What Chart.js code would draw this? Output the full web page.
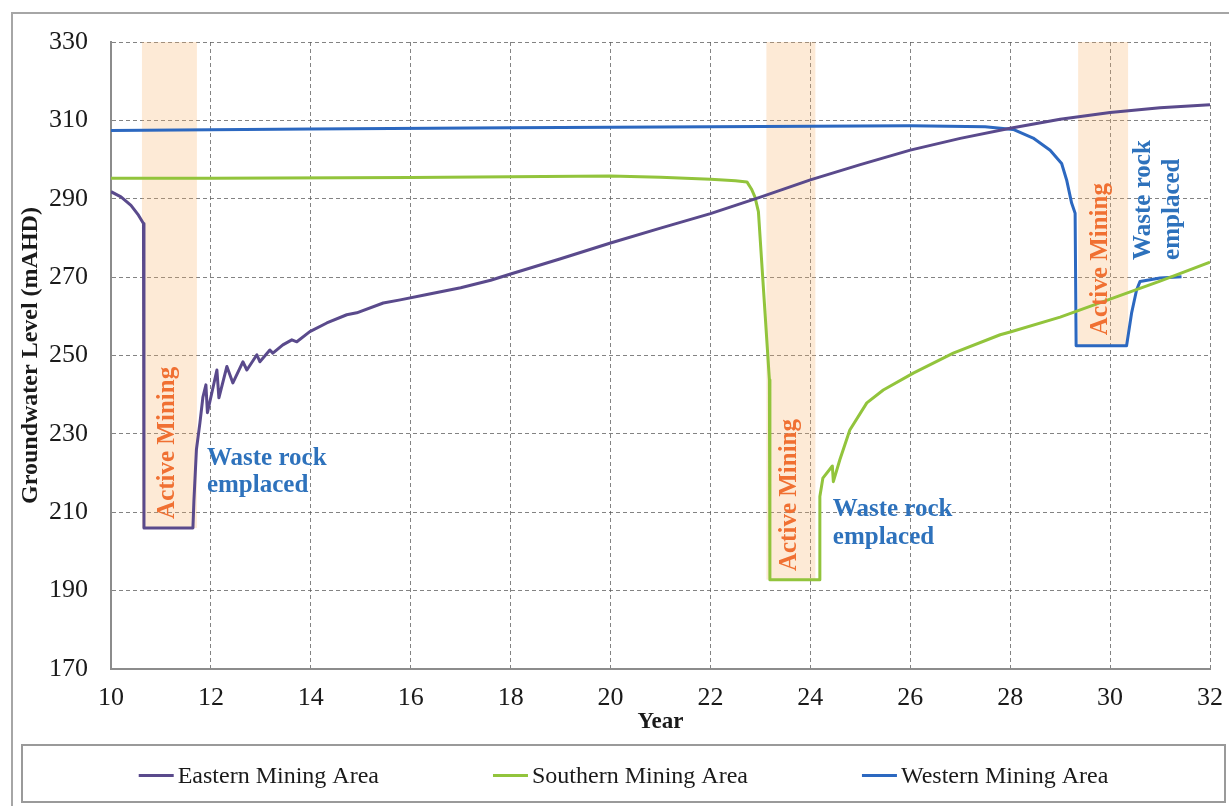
<!DOCTYPE html>
<html>
<head>
<meta charset="utf-8">
<script src="https://cdn.jsdelivr.net/npm/chart.js@4.4.1/dist/chart.umd.min.js"></script>
<style>
  html, body { margin: 0; padding: 0; background: #ffffff; }
  #wrap { position: relative; width: 1229px; height: 806px; }
  canvas { display: block; }
</style>
</head>
<body>
<div id="wrap"><canvas id="chart" width="1229" height="806"></canvas></div>
<script>
// Groundwater level (mAHD) by year for the three mining areas
const seriesNames = ['Eastern Mining Area', 'Southern Mining Area', 'Western Mining Area'];

const eastYears = [10.0, 10.2, 10.4, 10.55, 10.65, 10.66, 11.64, 11.66, 11.71, 11.78, 11.84, 11.90, 11.93,
  12.12, 12.16, 12.32, 12.44, 12.64, 12.72, 12.92, 12.98, 13.18, 13.24, 13.44, 13.62, 13.72, 13.98,
  14.32, 14.72, 14.92, 15.45, 15.79, 16.3, 17.0, 17.6, 18.0, 19.0, 20.0, 21.0, 22.0, 23.0, 24.0,
  25.0, 26.0, 27.0, 28.0, 29.0, 30.0, 31.0, 32.0];
const eastLevels = [291.8, 290.5, 288.3, 285.8, 283.7, 206.0, 206.0, 213.0, 226.0, 232.8, 239.4, 242.5, 235.4,
  246.3, 239.2, 247.2, 243.0, 248.4, 246.3, 250.2, 248.4, 251.4, 250.6, 252.7, 254.0, 253.5, 256.1,
  258.3, 260.4, 260.9, 263.4, 264.2, 265.5, 267.3, 269.2, 270.8, 274.7, 278.7, 282.5, 286.2, 290.4, 294.8,
  298.7, 302.4, 305.4, 308.0, 310.3, 312.0, 313.2, 314.0];

const southYears = [10.0, 12.0, 16.0, 20.0, 21.0, 22.0, 22.5, 22.73, 22.82, 22.89, 22.96, 23.18, 23.19,
  24.18, 24.19, 24.25, 24.44, 24.46, 24.59, 24.79, 25.13, 25.46, 26.06, 26.86, 27.8, 28.0, 29.0,
  30.0, 31.0, 32.0];
const southLevels = [295.2, 295.2, 295.4, 295.8, 295.5, 295.0, 294.6, 294.3, 292.5, 290.5, 286.7, 243.8, 192.8,
  192.8, 214.0, 218.7, 221.8, 217.8, 223.4, 231.0, 237.9, 241.2, 245.5, 250.6, 255.3, 256.0, 259.8,
  264.4, 269.0, 273.8];

const westYears = [10.0, 14.0, 18.0, 22.0, 26.0, 27.5, 28.06, 28.46, 28.80, 29.03, 29.13, 29.23, 29.30,
  29.32, 30.33, 30.43, 30.53, 30.60, 31.0, 31.43];
const westLevels = [307.4, 307.8, 308.1, 308.4, 308.6, 308.4, 307.7, 305.5, 302.4, 299.0, 294.8, 288.9, 286.3,
  252.5, 252.5, 260.8, 266.7, 268.9, 269.8, 270.1];

// Axis ranges and tick spacing
const yearRange = [10, 32];
const yearStep = 2;
const levelRange = [170, 330];
const levelStep = 20;

// Active mining periods (years) and the drawdown floor each one reaches
const miningStart = [10.62, 23.12, 29.36];
const miningEnd = [11.72, 24.10, 30.36];
const miningFloor = [206.0, 192.8, 252.5];

const lineColors = ['#5a4a8c', '#92c43c', '#2c68c0'];
const orange = '#f07032';
const noteBlue = '#2e72bc';
const serif = '"Liberation Serif", "Times New Roman", serif';

const toPoints = (xs, ys) => xs.map((x, i) => ({ x, y: ys[i] }));

// Text notes placed in data units
const notes = [
  { text: 'Active Mining', x: 11.14, y: 227.7, rotate: true, align: 'center', color: orange },
  { text: 'Waste rock', x: 11.92, y: 223.6, rotate: false, align: 'left', color: noteBlue },
  { text: 'emplaced', x: 11.92, y: 216.7, rotate: false, align: 'left', color: noteBlue },
  { text: 'Active Mining', x: 23.59, y: 214.4, rotate: true, align: 'center', color: orange },
  { text: 'Waste rock', x: 24.45, y: 210.6, rotate: false, align: 'left', color: noteBlue },
  { text: 'emplaced', x: 24.45, y: 203.5, rotate: false, align: 'left', color: noteBlue },
  { text: 'Active Mining', x: 29.80, y: 274.6, rotate: true, align: 'center', color: orange },
  { text: 'Waste rock', x: 30.66, y: 274.4, rotate: true, align: 'left', color: noteBlue },
  { text: 'emplaced', x: 31.25, y: 274.4, rotate: true, align: 'left', color: noteBlue }
];

// Shaded active-mining windows, drawn under the lines
const miningBands = {
  id: 'miningBands',
  beforeDatasetsDraw(chart) {
    const { ctx, scales: { x, y } } = chart;
    ctx.save();
    ctx.fillStyle = 'rgba(248, 176, 105, 0.27)';
    miningStart.forEach((s, i) => {
      const x0 = x.getPixelForValue(s);
      const x1 = x.getPixelForValue(miningEnd[i]);
      const y0 = y.getPixelForValue(levelRange[1]);
      const y1 = y.getPixelForValue(miningFloor[i]);
      ctx.fillRect(x0, y0, x1 - x0, y1 - y0);
    });
    ctx.restore();
  }
};

// Labels for the mining and waste-rock phases
const phaseNotes = {
  id: 'phaseNotes',
  afterDatasetsDraw(chart) {
    const { ctx, scales: { x, y } } = chart;
    ctx.save();
    ctx.font = 'bold 25px ' + serif;
    ctx.textBaseline = 'middle';
    notes.forEach(n => {
      const px = x.getPixelForValue(n.x);
      const py = y.getPixelForValue(n.y);
      ctx.fillStyle = n.color;
      ctx.textAlign = n.align;
      ctx.save();
      ctx.translate(px, py);
      if (n.rotate) ctx.rotate(-Math.PI / 2);
      ctx.fillText(n.text, 0, 0);
      ctx.restore();
    });
    ctx.restore();
  }
};

// Outer frame and boxed legend along the bottom
const frameAndLegend = {
  id: 'frameAndLegend',
  afterDraw(chart) {
    const { ctx } = chart;
    ctx.save();
    ctx.strokeStyle = '#a6a6a6';
    ctx.lineWidth = 2;
    ctx.beginPath();
    ctx.moveTo(12, 830);
    ctx.lineTo(12, 13);
    ctx.lineTo(1240, 13);
    ctx.stroke();

    const box = { left: 22, top: 745, right: 1225, bottom: 802 };
    ctx.strokeStyle = '#9a9a9a';
    ctx.lineWidth = 2;
    ctx.strokeRect(box.left, box.top, box.right - box.left, box.bottom - box.top);

    ctx.font = '24px ' + serif;
    ctx.textBaseline = 'middle';
    ctx.textAlign = 'left';
    const sample = 35, gapText = 4, gapItem = 114;
    const items = chart.data.datasets.map(ds => ({
      label: ds.label, color: ds.borderColor, w: sample + gapText + ctx.measureText(ds.label).width
    }));
    const total = items.reduce((a, it) => a + it.w, 0) + gapItem * (items.length - 1);
    let cx = (box.left + box.right) / 2 - total / 2;
    const cy = (box.top + box.bottom) / 2 + 2;
    items.forEach(it => {
      ctx.strokeStyle = it.color;
      ctx.lineWidth = 3;
      ctx.beginPath();
      ctx.moveTo(cx, cy);
      ctx.lineTo(cx + sample, cy);
      ctx.stroke();
      ctx.fillStyle = '#1a1a1a';
      ctx.fillText(it.label, cx + sample + gapText, cy + 1);
      cx += it.w + gapItem;
    });
    ctx.restore();
  }
};

const gridCommon = {
  color: 'rgba(90, 90, 90, 0.75)',
  lineWidth: 1,
  drawTicks: false
};

new Chart(document.getElementById('chart'), {
  type: 'line',
  data: {
    datasets: [
      { label: seriesNames[0], data: toPoints(eastYears, eastLevels), borderColor: lineColors[0] },
      { label: seriesNames[1], data: toPoints(southYears, southLevels), borderColor: lineColors[1] },
      { label: seriesNames[2], data: toPoints(westYears, westLevels), borderColor: lineColors[2] }
    ]
  },
  options: {
    responsive: false,
    animation: false,
    devicePixelRatio: 1,
    layout: { padding: { top: 42, right: 19, bottom: 67, left: 0 } },
    elements: {
      line: { borderWidth: 3, tension: 0, fill: false, borderJoinStyle: 'round' },
      point: { radius: 0, hoverRadius: 0 }
    },
    plugins: {
      legend: { display: false },
      tooltip: { enabled: false },
      title: { display: false }
    },
    scales: {
      x: {
        type: 'linear',
        min: yearRange[0],
        max: yearRange[1],
        afterFit(scale) {
          scale.height = 70;
          scale.paddingLeft = 0;
          scale.paddingRight = 0;
        },
        ticks: { stepSize: yearStep, padding: 14, color: '#1a1a1a', font: { family: serif, size: 26 }, maxRotation: 0 },
        grid: gridCommon,
        border: { display: true, color: '#8c8c8c', width: 2, dash: [4, 3] },
        title: { display: true, text: 'Year', color: '#1a1a1a', font: { family: serif, size: 23, weight: 'bold' }, padding: { top: 0, bottom: 3 } }
      },
      y: {
        type: 'linear',
        min: levelRange[0],
        max: levelRange[1],
        afterFit(scale) {
          scale.width = 111;
          scale.paddingTop = 0;
          scale.paddingBottom = 0;
        },
        ticks: { stepSize: levelStep, padding: 23, color: '#1a1a1a', font: { family: serif, size: 26 } },
        grid: gridCommon,
        border: { display: true, color: '#8c8c8c', width: 2, dash: [4, 3] },
        title: { display: true, text: 'Groundwater Level (mAHD)', color: '#1a1a1a', font: { family: serif, size: 24, weight: 'bold' }, padding: { top: 16, bottom: 0 } }
      }
    }
  },
  plugins: [miningBands, phaseNotes, frameAndLegend]
});
</script>
</body>
</html>
